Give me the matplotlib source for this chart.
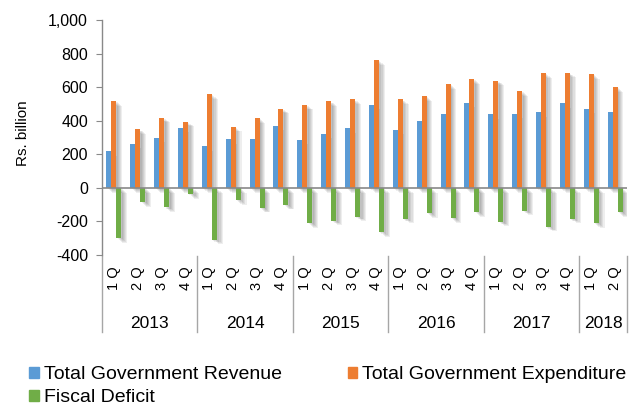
import numpy as np
import matplotlib
matplotlib.use('Agg')
import matplotlib.pyplot as plt
import matplotlib.patheffects as pe
from matplotlib.patches import Patch

plt.rcParams['font.family'] = ['Liberation Sans', 'DejaVu Sans']

# data (Rs. billion), 2013 Q1 .. 2018 Q2
years = ['2013', '2014', '2015', '2016', '2017', '2018']
quarters_per_year = [4, 4, 4, 4, 4, 2]
quarter_labels = ['1 Q', '2 Q', '3 Q', '4 Q'] * 5 + ['1 Q', '2 Q']
revenue = [219, 263, 300, 358, 247, 292, 292, 370, 287, 322, 354,
           495, 346, 398, 440, 507, 438, 442, 452, 503, 472, 454]
expenditure = [517, 348, 418, 394, 557, 364, 414, 472, 495, 515, 527,
               760, 527, 545, 617, 649, 639, 575, 682, 687, 677, 599]
deficit = [-298, -84, -117, -36, -308, -72, -119, -101, -209, -195, -171,
           -263, -183, -149, -181, -143, -201, -135, -231, -183, -209, -145]

BLUE = '#5B9BD5'
ORANGE = '#ED7D31'
GREEN = '#70AD47'
AXC = '#898989'

fig = plt.figure(figsize=(6.32, 4.07), dpi=100)
ax = fig.add_axes([102/632, 1 - 255/407, 525/632, 235/407])

# soft drop shadow like Excel
shadow = [pe.SimplePatchShadow(offset=(d, -d * 0.8), shadow_rgbFace='black', alpha=0.065)
          for d in (1.0, 1.8, 2.6, 3.4, 4.2)] + [pe.Normal()]

x = np.arange(len(revenue))
w = 0.21
series = [(revenue, BLUE, -w), (expenditure, ORANGE, 0), (deficit, GREEN, w)]
for vals, col, off in series:
    bars = ax.bar(x + off, vals, width=w, color=col, linewidth=0, zorder=3)
    for b in bars:
        b.set_path_effects(shadow)

ax.set_xlim(-0.5, len(revenue) - 0.5)
ax.set_ylim(-400, 1000)
ax.set_yticks(range(-400, 1001, 200))
ax.set_yticklabels([f'{v:,}' for v in range(-400, 1001, 200)])
ax.axhline(0, color=AXC, lw=1.2, zorder=4)

for s in ['top', 'right', 'bottom']:
    ax.spines[s].set_visible(False)
ax.spines['left'].set_color(AXC)
ax.spines['left'].set_linewidth(1.0)
ax.tick_params(axis='y', direction='out', length=4, color=AXC, labelsize=11.5, pad=6)
ax.set_xticks([])

ax.set_ylabel('Rs. billion', fontsize=11)
ax.yaxis.set_label_coords(-0.137, 0.52)

# category labels under the plot
tr = ax.get_xaxis_transform()
for i, q in enumerate(quarter_labels):
    ax.text(i, -0.098, q, transform=tr, rotation=90, ha='center', va='center',
            fontsize=10.5)
start = 0
bounds = [-0.5]
for yr, n in zip(years, quarters_per_year):
    ax.text(start + (n - 1) / 2, -0.29, yr, transform=tr, ha='center', va='center',
            fontsize=12.5)
    start += n
    bounds.append(start - 0.5)
for b in bounds:
    ax.plot([b, b], [-0.004, -0.328], transform=tr, color='#A6A6A6', lw=1,
            clip_on=False)

handles = [Patch(color=BLUE, label='Total Government Revenue'),
           Patch(color=GREEN, label='Fiscal Deficit'),
           Patch(color=ORANGE, label='Total Government Expenditure')]
fig.legend(handles=handles, ncol=2, loc='upper left', bbox_to_anchor=(0.046, 0.1),
           frameon=False, fontsize=14, handlelength=0.5, handleheight=0.5,
           handletextpad=0.25, columnspacing=3.4, labelspacing=0.3,
           borderaxespad=0, borderpad=0)

fig.savefig('out.png', dpi=100)
